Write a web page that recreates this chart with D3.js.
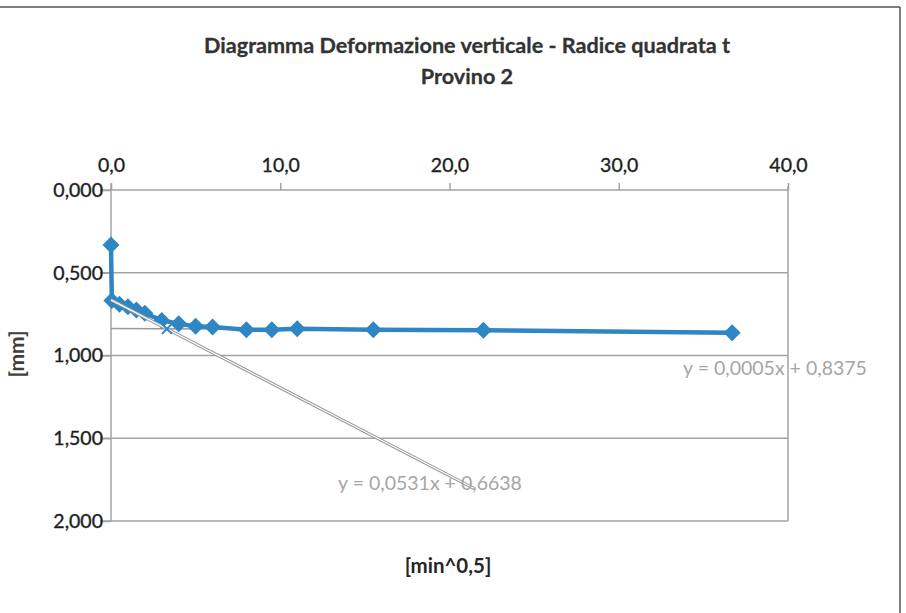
<!DOCTYPE html>
<html><head><meta charset="utf-8">
<script src="https://cdn.jsdelivr.net/npm/d3@7"></script>
<style>
html,body{margin:0;padding:0;background:#fff;}
svg{display:block;}
</style></head>
<body>
<svg id="chart" width="906" height="613"></svg>
<script>
// ---- data ----
const titleLines = ["Diagramma Deformazione verticale - Radice quadrata t", "Provino 2"];
const xTickValues = [0, 10, 20, 30, 40];
const yTickValues = [0, 0.5, 1.0, 1.5, 2.0];
const sqrtTime = [0, 0.05, 0.5, 1.0, 1.5, 2.0, 3.0, 4.0, 5.0, 6.0, 8.0, 9.5, 11.0, 15.5, 22.0, 36.7];
const deformation = [0.333, 0.667, 0.690, 0.705, 0.725, 0.745, 0.788, 0.808, 0.824, 0.828, 0.844, 0.844, 0.838, 0.844, 0.848, 0.862];
const trendSlopes = [0.0531, 0.0005];
const trendIntercepts = [0.6638, 0.8375];
const trendXRanges = [[0, 21.5], [0, 36.7]];
const trendLabels = ["y = 0,0531x + 0,6638", "y = 0,0005x + 0,8375"];
const xTitle = "[min^0,5]";
const yTitle = "[mm]";

// ---- layout ----
const svg = d3.select("#chart");
const L = 111, R = 788, T = 190, B = 521;
const x = d3.scaleLinear().domain([0, 40]).range([L, R]);
const y = d3.scaleLinear().domain([0, 2]).range([T, B]);
const blue = "#2e86c4";
const grid = "#a3a3a3";
const FONT = "Lato, 'Open Sans', sans-serif";
const fmtComma = (v, d) => v.toFixed(d).replace(".", ",");

// outer frame (top and right edges visible)
svg.append("line").attr("x1", 0).attr("x2", 900).attr("y1", 7).attr("y2", 7)
  .attr("stroke", "#555").attr("stroke-width", 1.5);
svg.append("line").attr("x1", 900).attr("x2", 900).attr("y1", 7).attr("y2", 613)
  .attr("stroke", "#555").attr("stroke-width", 1.5);

// title
const title = svg.append("g");
titleLines.forEach((t, i) => {
  title.append("text").attr("x", 467).attr("y", [53, 84][i])
    .attr("text-anchor", "middle").attr("font-family", FONT)
    .attr("font-weight", "bold").attr("font-size", 17).attr("fill", "#333")
    .attr("stroke", "#333").attr("stroke-width", 0.3).text(t);
});
const t0 = title.select("text").node();
const w0 = t0.getComputedTextLength();
if (w0 > 0) { const s = 17 * 526 / w0; title.selectAll("text").attr("font-size", s); }

// horizontal gridlines
svg.append("g").selectAll("line").data(yTickValues.slice(1)).join("line")
  .attr("x1", L - 11).attr("x2", R).attr("y1", d => y(d)).attr("y2", d => y(d))
  .attr("stroke", grid).attr("stroke-width", 1.5);

// plot right border
svg.append("line").attr("x1", R).attr("x2", R).attr("y1", T - 4).attr("y2", B)
  .attr("stroke", grid).attr("stroke-width", 1.5);

// top x axis
const xAxis = d3.axisTop(x).tickValues(xTickValues).tickSize(7).tickFormat(d => fmtComma(d, 1));
const gx = svg.append("g").attr("transform", `translate(0,${T})`).call(xAxis);
gx.select(".domain").attr("stroke", grid).attr("stroke-width", 1.5).attr("d", `M${L - 11},0H${R}`);
gx.selectAll(".tick line").attr("stroke", grid).attr("stroke-width", 1.5);
gx.selectAll(".tick text").attr("font-family", FONT)
  .attr("font-size", 19.5).attr("fill", "#1e1e1e").attr("stroke", "#1e1e1e").attr("stroke-width", 0.35)
  .attr("y", -18).attr("dy", "0");

// left y axis
const yAxis = d3.axisLeft(y).tickValues(yTickValues).tickSize(11).tickFormat(d => fmtComma(d, 3));
const gy = svg.append("g").attr("transform", `translate(${L},0)`).call(yAxis);
gy.select(".domain").attr("stroke", grid).attr("stroke-width", 1.5).attr("d", `M0,${T - 7}V${B}`);
gy.selectAll(".tick line").attr("stroke", grid).attr("stroke-width", 1.5);
gy.selectAll(".tick text").attr("font-family", FONT)
  .attr("font-size", 19.5).attr("fill", "#1e1e1e").attr("stroke", "#1e1e1e").attr("stroke-width", 0.35)
  .attr("x", -8);

// trendline 2 (flat), underneath the data
function trendPts(i) {
  return trendXRanges[i].map(v => [x(v), y(trendSlopes[i] * v + trendIntercepts[i])]);
}
svg.append("path").attr("d", d3.line()(trendPts(1)))
  .attr("stroke", "#9a9a9a").attr("stroke-width", 1.5).attr("fill", "none");

// data series
const pts = sqrtTime.map((v, i) => [v, deformation[i]]);
svg.append("path").datum(pts)
  .attr("d", d3.line().x(d => x(d[0])).y(d => y(d[1])))
  .attr("fill", "none").attr("stroke", blue).attr("stroke-width", 4.5).attr("stroke-linejoin", "round");
svg.append("g").selectAll("path").data(pts).join("path")
  .attr("transform", d => `translate(${x(d[0])},${y(d[1])})`)
  .attr("d", "M0,-8.5L8.5,0L0,8.5L-8.5,0Z").attr("fill", blue);

// trendline 1 (steep) drawn as double thin line
const tp1 = d3.line()(trendPts(0));
svg.append("path").attr("d", tp1).attr("stroke", "#999").attr("stroke-width", 3.2).attr("fill", "none");
svg.append("path").attr("d", tp1).attr("stroke", "#fff").attr("stroke-width", 1.2).attr("fill", "none");

// intersection X marker
const xi = (trendIntercepts[1] - trendIntercepts[0]) / (trendSlopes[0] - trendSlopes[1]);
const yi = trendSlopes[0] * xi + trendIntercepts[0];
svg.append("path").attr("transform", `translate(${x(xi)},${y(yi)})`)
  .attr("d", "M-5,-5L5,5M-5,5L5,-5").attr("stroke", blue).attr("stroke-width", 2);

// trendline labels
svg.append("text").attr("x", 430).attr("y", 490).attr("text-anchor", "middle")
  .attr("font-family", FONT).attr("font-size", 19.5)
  .attr("fill", "#a6a6a6").text(trendLabels[0]);
svg.append("text").attr("x", 775).attr("y", 375).attr("text-anchor", "middle")
  .attr("font-family", FONT).attr("font-size", 19.5)
  .attr("fill", "#a6a6a6").text(trendLabels[1]);

// axis titles
svg.append("text").attr("x", 448).attr("y", 573).attr("text-anchor", "middle")
  .attr("font-family", FONT).attr("font-weight", "bold")
  .attr("font-size", 20.5).attr("fill", "#262626").text(xTitle);
svg.append("text").attr("transform", "translate(24,354) rotate(-90)").attr("text-anchor", "middle")
  .attr("font-family", FONT).attr("font-weight", "bold")
  .attr("font-size", 21).attr("fill", "#404040").text(yTitle);
</script>
</body></html>
